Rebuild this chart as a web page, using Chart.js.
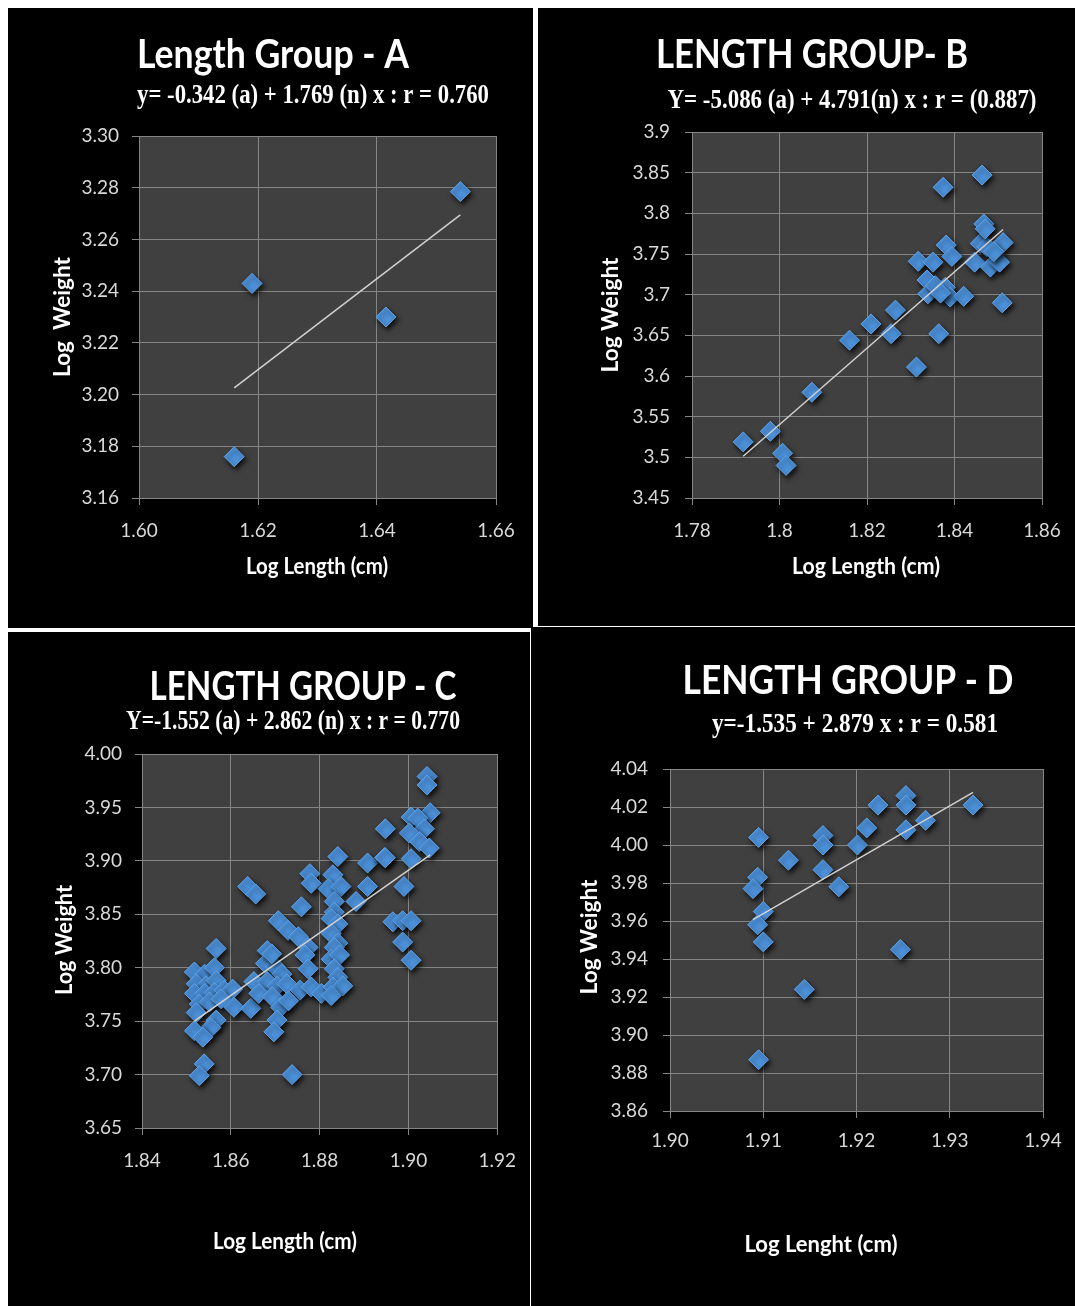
<!DOCTYPE html>
<html>
<head>
<meta charset="utf-8">
<script src="https://cdn.jsdelivr.net/npm/chart.js@4.4.1/dist/chart.umd.min.js"></script>
<style>
body{margin:0;background:#fff;width:1075px;height:1306px;position:relative;overflow:hidden}
.panel{position:absolute;background:#000}
.panel canvas{display:block}
</style>
</head>
<body>
<div class="panel" style="left:8px;top:8px"><canvas id="chartA" width="525" height="620"></canvas></div>
<div class="panel" style="left:538px;top:8px"><canvas id="chartB" width="537" height="618"></canvas></div>
<div class="panel" style="left:8px;top:632px"><canvas id="chartC" width="522" height="674"></canvas></div>
<div class="panel" style="left:531px;top:627px"><canvas id="chartD" width="544" height="679"></canvas></div>
<script>
// ---- data (log length, log weight) ----
const aX = [1.616, 1.619, 1.6415, 1.654];
const aY = [3.176, 3.243, 3.230, 3.2785];
const aXTicks = ['1.60','1.62','1.64','1.66'];
const aYTicks = ['3.16','3.18','3.20','3.22','3.24','3.26','3.28','3.30'];

const bX = [1.7917,1.7979,1.8007,1.8015,1.8074,1.8160,1.8209,1.8255,1.8265,1.8313,1.8317,1.8351,1.8337,1.8339,1.8356,1.8364,1.8374,1.8381,1.8394,1.8379,1.8390,1.8421,1.8463,1.8467,1.8459,1.8446,1.8474,1.8482,1.8503,1.8511,1.8509,1.8490,1.8470,1.8368];
const bY = [3.519,3.532,3.505,3.490,3.580,3.644,3.664,3.652,3.681,3.611,3.741,3.740,3.718,3.701,3.711,3.652,3.832,3.761,3.747,3.709,3.697,3.698,3.847,3.787,3.763,3.740,3.759,3.734,3.740,3.764,3.690,3.753,3.781,3.702];
const bXTicks = ['1.78','1.8','1.82','1.84','1.86'];
const bYTicks = ['3.45','3.5','3.55','3.6','3.65','3.7','3.75','3.8','3.85','3.9'];

const cX = [1.8567,1.8518,1.8541,1.8563,1.8522,1.8544,1.8567,1.8518,1.8541,1.8563,1.8585,1.8604,1.8529,1.8552,1.8578,1.8522,1.8567,1.8555,1.8518,1.8537,
  1.8607,1.8645,1.8540,1.8529,1.8738,1.8682,1.8678,1.8700,1.8715,1.8652,1.8682,1.8704,1.8726,1.8756,1.8663,1.8693,1.8712,1.8730,1.8704,1.8697,
  1.8841,1.8908,1.8946,1.8778,1.8781,1.8830,1.8819,1.8848,1.8908,1.8833,1.8833,1.8882,1.8759,1.8707,1.8729,1.8752,1.8826,1.8841,1.8826,1.8841,
  1.8774,1.8767,1.8774,1.8833,1.8826,1.8845,1.8833,1.8841,1.8692,1.8781,1.8804,1.8830,1.8852,1.8826,
  1.9042,1.9042,1.9049,1.9006,1.9021,1.9036,1.9002,1.9025,1.9047,1.9006,1.8948,1.8948,1.8990,1.8965,1.8987,1.9006,1.8987,1.9006,1.8638,1.8656];
const cY = [3.818,3.796,3.794,3.800,3.785,3.783,3.788,3.776,3.776,3.777,3.779,3.780,3.766,3.768,3.771,3.758,3.751,3.744,3.741,3.735,
  3.763,3.762,3.710,3.699,3.700,3.816,3.804,3.801,3.794,3.787,3.787,3.783,3.785,3.779,3.776,3.773,3.763,3.769,3.751,3.740,
  3.904,3.898,3.903,3.888,3.879,3.887,3.874,3.876,3.876,3.862,3.852,3.862,3.857,3.844,3.835,3.829,3.846,3.841,3.832,3.823,
  3.819,3.812,3.799,3.819,3.808,3.812,3.799,3.791,3.813,3.782,3.776,3.782,3.783,3.774,
  3.979,3.971,3.945,3.941,3.940,3.930,3.926,3.918,3.912,3.902,3.930,3.903,3.876,3.843,3.844,3.844,3.824,3.807,3.876,3.869];
const cXTicks = ['1.84','1.86','1.88','1.90','1.92'];
const cYTicks = ['3.65','3.70','3.75','3.80','3.85','3.90','3.95','4.00'];

const dX = [1.9095,1.9127,1.9094,1.9089,1.9100,1.9094,1.9100,1.9144,1.9095,1.9164,1.9164,1.9164,1.9181,1.9201,1.9211,1.9223,1.9253,1.9253,1.9253,1.9247,1.9274,1.9325];
const dY = [4.004,3.992,3.983,3.977,3.965,3.958,3.949,3.924,3.887,4.005,4.000,3.987,3.978,4.000,4.009,4.021,4.026,4.021,4.008,3.945,4.013,4.021];
const dXTicks = ['1.90','1.91','1.92','1.93','1.94'];
const dYTicks = ['3.86','3.88','3.90','3.92','3.94','3.96','3.98','4.00','4.02','4.04'];

// least squares line over the x range, like the excel trendline
function trend(xs, ys){
  var n = xs.length, mx = 0, my = 0, sxy = 0, sxx = 0;
  for (var i = 0; i < n; i++){ mx += xs[i]; my += ys[i]; }
  mx /= n; my /= n;
  for (var i = 0; i < n; i++){ sxy += (xs[i]-mx)*(ys[i]-my); sxx += (xs[i]-mx)*(xs[i]-mx); }
  var b = sxy/sxx, a = my - b*mx;
  var lo = Math.min.apply(null, xs), hi = Math.max.apply(null, xs);
  return [{x: lo, y: a + b*lo}, {x: hi, y: a + b*hi}];
}

const plotBg = {
  id: 'plotBg',
  beforeDraw(chart){
    const a = chart.chartArea, ctx = chart.ctx;
    ctx.save(); ctx.fillStyle = '#404040';
    ctx.fillRect(a.left, a.top, a.right - a.left, a.bottom - a.top);
    ctx.restore();
  }
};

// excel style drop shadow under the diamonds
const markShadow = {
  id: 'markShadow',
  beforeDatasetDraw(chart, args){
    if (args.index !== 1) return;
    const ctx = chart.ctx;
    ctx.shadowColor = 'rgba(0,0,0,0.8)';
    ctx.shadowBlur = 5; ctx.shadowOffsetX = 2; ctx.shadowOffsetY = 3;
  },
  afterDatasetDraw(chart, args){
    const ctx = chart.ctx;
    ctx.shadowColor = 'rgba(0,0,0,0)'; ctx.shadowBlur = 0; ctx.shadowOffsetX = 0; ctx.shadowOffsetY = 0;
  }
};

// titles, equations and axis titles; squeezed to width w like the narrow office fonts
const panelText = {
  id: 'panelText',
  afterDraw(chart, args, opts){
    const ctx = chart.ctx;
    (opts.items || []).forEach(function(t){
      ctx.save();
      ctx.font = t.font;
      ctx.fillStyle = t.color || '#fff';
      ctx.textAlign = 'center'; ctx.textBaseline = 'middle';
      ctx.translate(t.x, t.y);
      if (t.rot) ctx.rotate(-Math.PI/2);
      var m = ctx.measureText(t.text).width;
      ctx.scale(t.w ? t.w/m : 1, 1);
      ctx.fillText(t.text, 0, 0);
      ctx.restore();
    });
  }
};

const TITLE = 'bold 40px Lato';
const EQN = 'bold 27px "Liberation Serif"';
const AXT = 'bold 22px Lato';
const Y_W = 90, X_H = 60;   // fixed box sizes of the tick label strips

function axis(min, max, step, labels, pad){
  return {
    type: 'linear', min: min, max: max,
    ticks: {
      stepSize: step, padding: pad, color: '#d9d9d9', maxRotation: 0, autoSkip: false,
      font: {family: 'Lato', size: 19},
      callback: function(v){ return labels[Math.round((v - min)/step)]; }
    },
    grid: {color: '#858585', lineWidth: 1, tickLength: 7, tickColor: '#858585'},
    border: {color: '#858585', width: 1}
  };
}

function makeChart(id, xs, ys, p){
  var pts = xs.map(function(x, i){ return {x: x, y: ys[i]}; });
  var xa = axis(p.xMin, p.xMax, p.xStep, p.xTicks, p.xPad);
  var ya = axis(p.yMin, p.yMax, p.yStep, p.yTicks, p.yPad);
  xa.afterFit = function(s){ s.height = X_H; };
  ya.afterFit = function(s){ s.width = Y_W; };
  new Chart(id, {
    type: 'scatter',
    data: {
      datasets: [{
        data: trend(xs, ys), showLine: true, pointRadius: 0,
        borderColor: '#d0d0d0', borderWidth: 1.5
      }, {
        data: pts, pointStyle: 'rectRot', pointRadius: 10, pointHoverRadius: 10,
        backgroundColor: '#4c91da', borderColor: '#5fa2e6', borderWidth: 1
      }]
    },
    options: {
      responsive: false, animation: false, events: [],
      layout: {padding: {left: p.area.left - Y_W, top: p.area.top, right: p.area.right, bottom: p.area.bottom - X_H}},
      scales: {x: xa, y: ya},
      plugins: {
        legend: {display: false}, tooltip: {enabled: false},
        panelText: {items: p.text}
      }
    },
    plugins: [plotBg, markShadow, panelText]
  });
}

makeChart('chartA', aX, aY, {
  xMin: 1.60, xMax: 1.66, xStep: 0.02, xTicks: aXTicks, xPad: 14,
  yMin: 3.16, yMax: 3.30, yStep: 0.02, yTicks: aYTicks, yPad: 13,
  area: {left: 131, right: 37, top: 128, bottom: 130},
  text: [
    {text: 'Length Group - A', x: 265, y: 47, w: 272, font: TITLE},
    {text: 'y= -0.342 (a) + 1.769 (n) x : r = 0.760', x: 305, y: 88, w: 352, font: EQN},
    {text: 'Log Length (cm)', x: 309, y: 559, w: 142, font: AXT},
    {text: 'Log  Weight', x: 55, y: 309, w: 120, font: AXT, rot: true}
  ]
});

makeChart('chartB', bX, bY, {
  xMin: 1.78, xMax: 1.86, xStep: 0.02, xTicks: bXTicks, xPad: 14,
  yMin: 3.45, yMax: 3.9, yStep: 0.05, yTicks: bYTicks, yPad: 15,
  area: {left: 154, right: 33, top: 124, bottom: 128},
  text: [
    {text: 'LENGTH GROUP- B', x: 274, y: 47, w: 312, font: TITLE},
    {text: 'Y= -5.086 (a) + 4.791(n) x : r = (0.887)', x: 314, y: 93, w: 369, font: EQN},
    {text: 'Log Length (cm)', x: 328, y: 559, w: 148, font: AXT},
    {text: 'Log Weight', x: 73, y: 307, w: 115, font: AXT, rot: true}
  ]
});

makeChart('chartC', cX, cY, {
  xMin: 1.84, xMax: 1.92, xStep: 0.02, xTicks: cXTicks, xPad: 14,
  yMin: 3.65, yMax: 4.00, yStep: 0.05, yTicks: cYTicks, yPad: 13,
  area: {left: 134, right: 30, top: 122, bottom: 178},
  text: [
    {text: 'LENGTH GROUP - C', x: 295, y: 55, w: 307, font: TITLE},
    {text: 'Y=-1.552 (a) + 2.862 (n) x : r = 0.770', x: 285, y: 90, w: 334, font: EQN},
    {text: 'Log Length (cm)', x: 277, y: 610, w: 144, font: AXT},
    {text: 'Log Weight', x: 57, y: 308, w: 110, font: AXT, rot: true}
  ]
});

makeChart('chartD', dX, dY, {
  xMin: 1.90, xMax: 1.94, xStep: 0.01, xTicks: dXTicks, xPad: 11,
  yMin: 3.86, yMax: 4.04, yStep: 0.02, yTicks: dYTicks, yPad: 15,
  area: {left: 139, right: 32, top: 142, bottom: 195},
  text: [
    {text: 'LENGTH GROUP - D', x: 317, y: 54, w: 331, font: TITLE},
    {text: 'y=-1.535 + 2.879 x : r = 0.581', x: 324, y: 98, w: 286, font: EQN},
    {text: 'Log Lenght (cm)', x: 290, y: 618, w: 153, font: AXT},
    {text: 'Log Weight', x: 59, y: 310, w: 115, font: AXT, rot: true}
  ]
});
</script>
</body>
</html>
